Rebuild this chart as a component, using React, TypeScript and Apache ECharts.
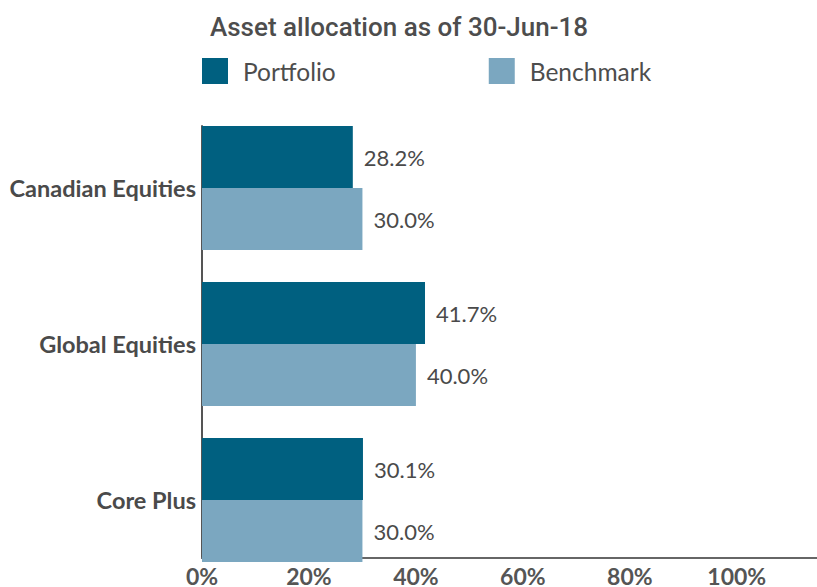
import React, { useEffect, useRef } from "react";
import * as echarts from "echarts";

const categories = ["Canadian Equities", "Global Equities", "Core Plus"];
const portfolio = [28.2, 41.7, 30.1];
const benchmark = [30.0, 40.0, 30.0];
const seriesNames = ["Portfolio", "Benchmark"];
const titleText = "Asset allocation as of 30-Jun-18";

const DARK = "#006080";
const LIGHT = "#7ba7c0";
const TEXT = "#4a4a4a";

export default function App() {
  const ref = useRef<HTMLDivElement>(null);
  useEffect(() => {
    if (!ref.current) return;
    const chart = echarts.init(ref.current, undefined, { renderer: "svg" });
    const labelCfg = {
      show: true,
      position: "right" as const,
      distance: 11,
      fontFamily: "Lato",
      fontSize: 22,
      color: TEXT,
      formatter: (p: any) => Number(p.value).toFixed(1) + "%",
    };
    chart.setOption({
      animation: false,
      title: {
        text: titleText,
        left: 205,
        top: 9,
        textStyle: {
          fontFamily: "Roboto",
          fontSize: 26,
          fontWeight: 500,
          color: "#4d4d4d",
        },
      },
      legend: {
        data: seriesNames,
        left: 197,
        top: 53,
        icon: "rect",
        itemWidth: 26,
        itemHeight: 26,
        itemGap: 153,
        textStyle: {
          fontFamily: "Lato",
          fontSize: 24.5,
          color: "#4d4d4d",
          padding: [0, 0, 0, 10],
        },
      },
      grid: [
        { left: 202, right: 0, top: 110, height: 468 },
        { left: 202, right: 0, top: 126, bottom: 24 },
      ],
      xAxis: [
        { gridIndex: 0, type: "value", min: 0, max: 115, show: false },
        {
          gridIndex: 1,
          type: "value",
          min: 0,
          max: 115,
          interval: 20,
          axisLine: { show: true, lineStyle: { color: "#666", width: 2 } },
          axisTick: { show: false },
          splitLine: { show: false },
          axisLabel: {
            showMaxLabel: false,
            formatter: "{value}%",
            fontFamily: "Lato",
            fontWeight: "bold",
            fontSize: 23,
            color: "#555",
            margin: 6,
          },
        },
      ],
      yAxis: [
        {
          gridIndex: 0,
          type: "category",
          data: categories,
          inverse: true,
          axisLine: { show: false },
          axisTick: { show: false },
          splitLine: { show: false },
          axisLabel: {
            fontFamily: "Lato",
            fontWeight: "bold",
            fontSize: 23.5,
            color: TEXT,
            margin: 6,
          },
        },
        {
          gridIndex: 1,
          type: "value",
          axisLine: { show: true, lineStyle: { color: "#555", width: 2 } },
          axisTick: { show: false },
          axisLabel: { show: false },
          splitLine: { show: false },
        },
      ],
      series: [
        {
          name: seriesNames[0],
          type: "bar",
          xAxisIndex: 0,
          yAxisIndex: 0,
          data: portfolio,
          barWidth: 62,
          barGap: "0%",
          itemStyle: { color: DARK },
          label: labelCfg,
        },
        {
          name: seriesNames[1],
          type: "bar",
          xAxisIndex: 0,
          yAxisIndex: 0,
          data: benchmark,
          barWidth: 62,
          barGap: "0%",
          itemStyle: { color: LIGHT },
          label: labelCfg,
        },
      ],
    });
    return () => chart.dispose();
  }, []);
  return (
    <div
      ref={ref}
      style={{ position: "absolute", left: 0, top: 0, width: 817, height: 587, background: "#fff" }}
    />
  );
}
